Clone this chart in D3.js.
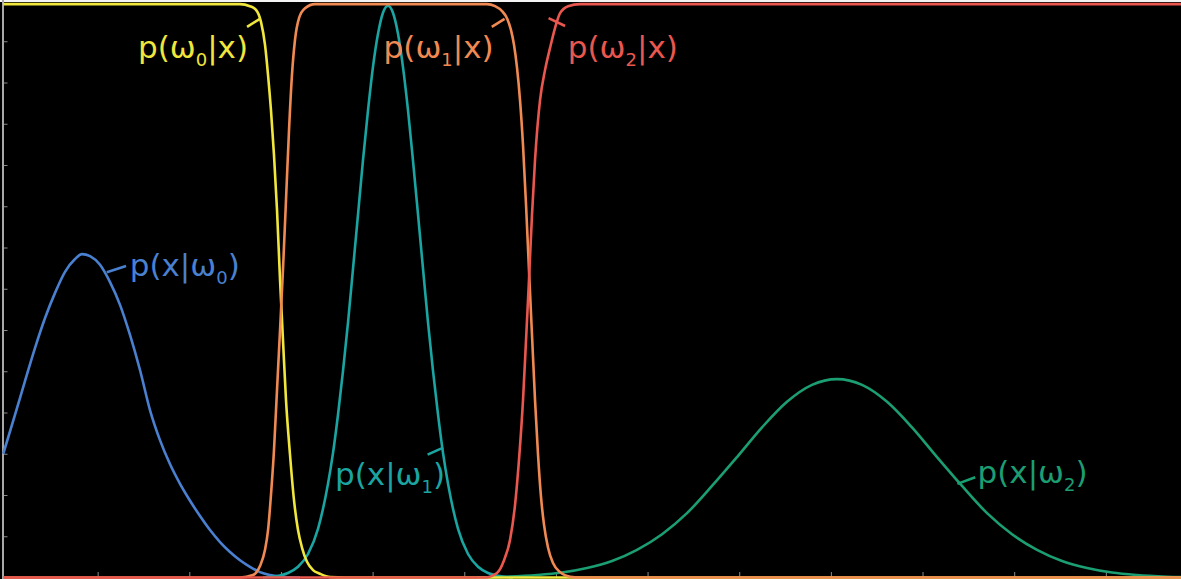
<!DOCTYPE html>
<html>
<head>
<meta charset="utf-8">
<script src="https://cdn.jsdelivr.net/npm/d3@7"></script>
<style>
  html, body { margin: 0; padding: 0; background: #000; }
  svg { display: block; }
</style>
</head>
<body>
<svg id="chart" width="1181" height="579"></svg>
<script>
// ---------- data (x in tick units, y in tick units) ----------
const xTicks = [1, 2, 3, 4, 5, 6, 7, 8, 9, 10, 11, 12];
const yTicks = [1, 2, 3, 4, 5, 6, 7, 8, 9, 10, 11, 12, 13];

// p(x|ω0)
const likelihood0 = [
  [-0.03, 3.0], [0.098, 3.94], [0.207, 4.76], [0.316, 5.56], [0.426, 6.29], [0.535, 6.9],
  [0.644, 7.41], [0.753, 7.72], [0.829, 7.84], [0.917, 7.79], [1.026, 7.58], [1.135, 7.16],
  [1.244, 6.61], [1.353, 5.88], [1.462, 5.03], [1.571, 4.06], [1.68, 3.33], [1.789, 2.75],
  [1.899, 2.27], [2.008, 1.86], [2.117, 1.49], [2.226, 1.15], [2.335, 0.86], [2.444, 0.62],
  [2.553, 0.42], [2.662, 0.26], [2.771, 0.13], [2.881, 0.06], [3.044, 0.01], [3.208, 0]
];
// p(x|ω1)
const likelihood1 = [
  [2.804, 0], [2.968, 0.04], [3.077, 0.11], [3.186, 0.26], [3.295, 0.57], [3.404, 1.18],
  [3.513, 2.27], [3.568, 3.02], [3.622, 3.94], [3.677, 5.01], [3.732, 6.19], [3.786, 7.48],
  [3.841, 8.81], [3.895, 10.12], [3.95, 11.33], [4.004, 12.38], [4.059, 13.18], [4.113, 13.69],
  [4.168, 13.86], [4.222, 13.69], [4.277, 13.18], [4.331, 12.38], [4.386, 11.33], [4.44, 10.12],
  [4.495, 8.81], [4.55, 7.48], [4.604, 6.19], [4.659, 5.01], [4.714, 3.94], [4.768, 3.02],
  [4.823, 2.27], [4.932, 1.18], [5.041, 0.57], [5.15, 0.26], [5.259, 0.11], [5.368, 0.04], [5.532, 0]
];
// p(x|ω2)
const likelihood2 = [
  [5.139, 0], [5.466, 0.02], [5.794, 0.06], [6.067, 0.12], [6.339, 0.23], [6.612, 0.4],
  [6.885, 0.67], [7.158, 1.05], [7.43, 1.56], [7.703, 2.22], [7.976, 2.92], [8.249, 3.64],
  [8.521, 4.26], [8.794, 4.67], [9.067, 4.81], [9.34, 4.67], [9.613, 4.26], [9.885, 3.64],
  [10.158, 2.92], [10.431, 2.22], [10.704, 1.56], [10.976, 1.05], [11.249, 0.67], [11.522, 0.4],
  [11.795, 0.23], [12.067, 0.12], [12.34, 0.06], [12.668, 0.02], [12.995, 0]
];
// p(ω0|x)
const posterior0 = [
  [-0.03, 13.9], [2.553, 13.9], [2.662, 13.85], [2.728, 13.76], [2.782, 13.47], [2.826, 12.91],
  [2.859, 12.18], [2.891, 11.33], [2.924, 10.24], [2.957, 8.91], [2.99, 7.21], [3.022, 5.76],
  [3.055, 4.3], [3.099, 2.97], [3.142, 1.88], [3.186, 1.15], [3.23, 0.72], [3.284, 0.38],
  [3.35, 0.18], [3.426, 0.09], [3.535, 0.01], [3.7, 0], [12.9, 0]
];
// p(ω1|x)
const posterior1 = [
  [-0.03, 0], [2.553, 0], [2.695, 0.06], [2.771, 0.28], [2.826, 0.67], [2.859, 1.15],
  [2.891, 2.0], [2.924, 3.09], [2.957, 4.55], [2.99, 6.0], [3.022, 7.46], [3.055, 9.15],
  [3.088, 10.85], [3.12, 12.18], [3.153, 13.03], [3.197, 13.56], [3.262, 13.8], [3.372, 13.9],
  [5.248, 13.9], [5.336, 13.85], [5.412, 13.73], [5.466, 13.56], [5.51, 13.27], [5.543, 12.91],
  [5.576, 12.35], [5.608, 11.58], [5.641, 10.48], [5.674, 9.03], [5.706, 7.46], [5.739, 5.88],
  [5.772, 4.3], [5.805, 2.97], [5.837, 1.96], [5.87, 1.28], [5.914, 0.72], [5.968, 0.35],
  [6.045, 0.13], [6.154, 0.02], [6.263, 0], [12.9, 0]
];
// p(ω2|x)
const posterior2 = [
  [-0.03, 0], [5.226, 0], [5.357, 0.11], [5.434, 0.42], [5.499, 0.91], [5.554, 1.76],
  [5.597, 2.85], [5.641, 4.3], [5.674, 5.76], [5.706, 7.21], [5.739, 8.79], [5.772, 10.12],
  [5.827, 11.58], [5.881, 12.3], [5.936, 12.84], [5.99, 13.32], [6.045, 13.68], [6.132, 13.85],
  [6.263, 13.9], [12.9, 13.9]
];

const seriesNames = ["p(x|ω0)", "p(x|ω1)", "p(x|ω2)", "p(ω0|x)", "p(ω1|x)", "p(ω2|x)"];

// labels: main text, subscript, trailing text, anchor (data units), leader line (data units)
const labelTexts = [
  { pre: "p(x|ω", sub: "0", post: ")", at: [1.35, 7.3], lead: [[1.1, 7.4], [1.31, 7.55]] },
  { pre: "p(x|ω", sub: "1", post: ")", at: [3.59, 2.24], lead: [[4.6, 2.98], [4.77, 3.15]] },
  { pre: "p(x|ω", sub: "2", post: ")", at: [10.6, 2.29], lead: [[10.38, 2.27], [10.575, 2.43]] },
  { pre: "p(ω", sub: "0", post: "|x)", at: [1.44, 12.6], lead: [[2.63, 13.35], [2.77, 13.54]] },
  { pre: "p(ω", sub: "1", post: "|x)", at: [4.12, 12.6], lead: [[5.3, 13.35], [5.44, 13.54]] },
  { pre: "p(ω", sub: "2", post: "|x)", at: [6.13, 12.6], lead: [[6.1, 13.37], [5.92, 13.56]] }
];

// ---------- styles ----------
const colors = ["#4a80d0", "#1ba5a2", "#1b9e72", "#f0e63c", "#f08a52", "#e9574f"];
const W = 1181, H = 579;

const svg = d3.select("#chart");
svg.append("rect").attr("x", 0).attr("y", 0).attr("width", W).attr("height", H).attr("fill", "#000");
svg.append("rect").attr("x", 0).attr("y", 0).attr("width", W).attr("height", 2).attr("fill", "#f4f4f4");

const x = d3.scaleLinear().domain([0, 12.82]).range([6, 1181]);
const y = d3.scaleLinear().domain([0, 14]).range([577.5, 0]);

svg.append("defs").append("clipPath").attr("id", "clip")
  .append("rect").attr("x", 2).attr("y", 0).attr("width", W).attr("height", H);

// axes
const yAxis = d3.axisRight(y).tickValues(yTicks).tickSize(4).tickFormat("");
const gy = svg.append("g").attr("transform", "translate(3.5,0)").call(yAxis);
gy.select(".domain").remove();
gy.selectAll(".tick line").attr("stroke", "#8a8a8a").attr("stroke-width", 1);
svg.append("line").attr("x1", 3).attr("x2", 3).attr("y1", 0).attr("y2", H)
  .attr("stroke", "#a8a8a8").attr("stroke-width", 2);

const xAxis = d3.axisTop(x).tickValues(xTicks).tickSize(5).tickFormat("");
const gx = svg.append("g").attr("transform", "translate(0,577)").call(xAxis);
gx.select(".domain").remove();
gx.selectAll(".tick line").attr("stroke", "#8a8a8a").attr("stroke-width", 1);

const line = d3.line().x(d => x(d[0])).y(d => y(d[1])).curve(d3.curveMonotoneX);
const allSeries = [likelihood0, likelihood1, likelihood2, posterior0, posterior1, posterior2];

const plot = svg.append("g").attr("clip-path", "url(#clip)");
plot.selectAll("path.curve").data(allSeries).join("path")
  .attr("class", "curve")
  .attr("d", line)
  .attr("fill", "none")
  .attr("stroke", (d, i) => colors[i])
  .attr("stroke-width", 2.6)
  .attr("stroke-linejoin", "round");

// leaders
const lab = svg.append("g");
lab.selectAll("line.lead").data(labelTexts).join("line")
  .attr("class", "lead")
  .attr("x1", d => x(d.lead[0][0])).attr("y1", d => y(d.lead[0][1]))
  .attr("x2", d => x(d.lead[1][0])).attr("y2", d => y(d.lead[1][1]))
  .attr("stroke", (d, i) => colors[i]).attr("stroke-width", 2.6);

const texts = lab.selectAll("text.lbl").data(labelTexts).join("text")
  .attr("class", "lbl")
  .attr("x", d => x(d.at[0])).attr("y", d => y(d.at[1]))
  .attr("fill", (d, i) => colors[i])
  .attr("font-family", "'DejaVu Sans', sans-serif")
  .attr("font-size", 31);
texts.append("tspan").text(d => d.pre);
texts.append("tspan").attr("dy", 8).attr("font-size", 18).text(d => d.sub);
texts.append("tspan").attr("dy", -8).text(d => d.post);
</script>
</body>
</html>
